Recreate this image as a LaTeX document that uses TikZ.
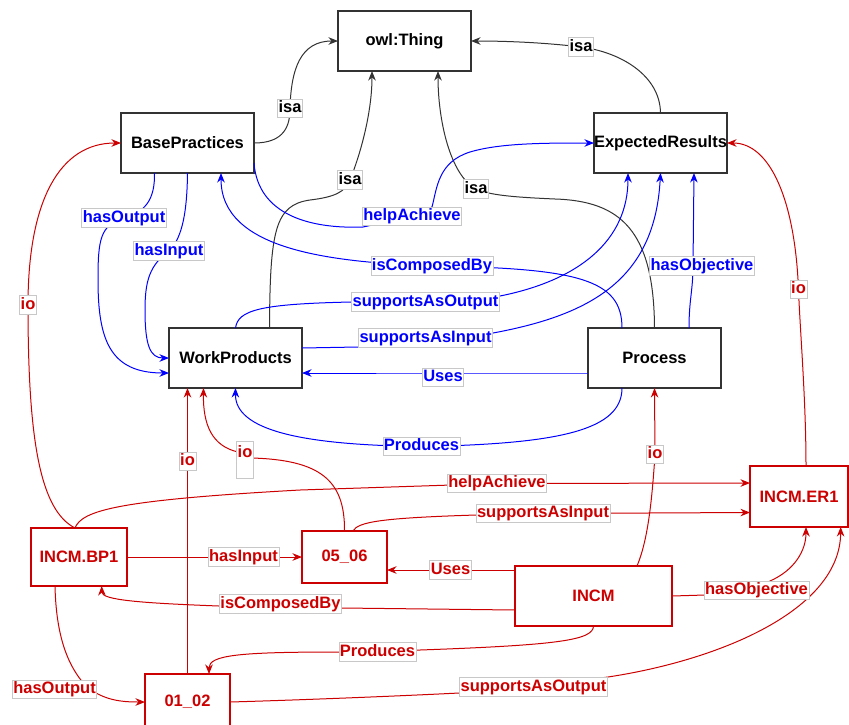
\documentclass[tikz,border=0pt]{standalone}
\usepackage{fontspec}
\setmainfont{Liberation Sans}
\usetikzlibrary{calc,arrows.meta}
\definecolor{cBlue}{RGB}{0,0,255}
\definecolor{cRed}{RGB}{204,0,0}
\definecolor{cBlk}{RGB}{51,51,51}
\definecolor{cLbl}{RGB}{200,200,200}
\begin{document}
\begin{tikzpicture}[x=1pt,y=-1pt,
  >={Stealth[length=9.5pt,width=7.5pt,inset=3pt]},
  txt/.style={font=\fontsize{16.5}{19}\selectfont\bfseries},
  cls/.style={draw=cBlk, line width=1.2pt, fill=white, minimum width=133pt, minimum height=60pt, inner sep=0pt, outer sep=0pt, txt, text=black},
  ind/.style={draw=cRed, line width=1.2pt, fill=white, inner sep=0pt, outer sep=0pt, txt, text=cRed},
  lbl/.style={fill=white, draw=cLbl, line width=0.6pt, inner xsep=1pt, inner ysep=1.5pt, text height=12pt, text depth=3.5pt, txt},
  bl/.style={lbl, text=cBlue},
  rl/.style={lbl, text=cRed},
  kl/.style={lbl, text=black},
  be/.style={draw=cBlue, line width=1pt, ->},
  re/.style={draw=cRed, line width=1pt, ->},
  ke/.style={draw=cBlk, line width=1pt, ->}]
\useasboundingbox (0,0) rectangle (849,724);
\clip (0,0) rectangle (849,724);
\fill[white] (0,0) rectangle (849,724);

% class nodes
\node[cls] (owl) at (404.5,41) {owl:Thing};
\node[cls] (bp) at (187.5,143) {BasePractices};
\node[cls] (er) at (660.5,143) {ExpectedResults};
\node[cls] (wp) at (235.5,358) {WorkProducts};
\node[cls] (proc) at (654.5,358) {Process};
% individuals
\node[ind, minimum width=98pt, minimum height=61pt] (ern1) at (799,496.5) {INCM.ER1};
\node[ind, minimum width=96pt, minimum height=58pt] (bp1) at (79,557) {INCM.BP1};
\node[ind, minimum width=85pt, minimum height=52pt] (n0506) at (344.5,557) {05\_06};
\node[ind, minimum width=157pt, minimum height=60pt] (incm) at (593.5,596) {INCM};
\node[ind, minimum width=85pt, minimum height=56pt] (n0102) at (187.5,702) {01\_02};

% isa
\draw[ke] (bp.east) .. controls (285,143) and (290,125) .. (290,108.5) node[kl]{isa} .. controls (291,70) and (300,41) .. (owl.west);
\draw[ke] ($(wp.north)+(34,0)$) .. controls (270,230) and (275,205) .. (310,200) .. controls (335,197) and (345,192) .. (350,180) node[kl]{isa} .. controls (362,150) and (372,110) .. ($(owl.south)+(-32.5,0)$);
\draw[ke] (proc.north) .. controls (654,230) and (620,201) .. (555,199) .. controls (510,197) and (490,195) .. (476,189) node[kl]{isa} .. controls (450,175) and (438,120) .. ($(owl.south)+(33.5,0)$);
\draw[ke] (er.north) .. controls (660,75) and (620,52) .. (581,47) node[kl]{isa} .. controls (540,42) and (500,41) .. (owl.east);

% blue
\draw[be] ($(bp.south)+(-33,0)$) .. controls (155,200) and (145,212) .. (124,218) node[bl]{hasOutput} .. controls (100,225) and (98,240) .. (98,280) .. controls (98,340) and (110,373) .. ($(wp.west)+(0,15)$);
\draw[be] (bp.south) .. controls (187,220) and (180,240) .. (169,251) node[bl]{hasInput} .. controls (150,265) and (145,280) .. (145,310) .. controls (145,345) and (150,358) .. (wp.west);
\draw[be] ($(proc.north)+(-32.5,0)$) .. controls (622,280) and (580,268) .. (432,266) node[bl]{isComposedBy} .. controls (330,262) and (221,250) .. ($(bp.south)+(33.5,0)$);
\draw[be] ($(bp.east)+(0,20)$) .. controls (258,215) and (310,229) .. (363,227) -- (412,216.5) node[bl]{helpAchieve} -- (432,207) .. controls (437,188) and (438,162) .. (470,152) .. controls (500,143) and (545,143) .. (er.west);
\draw[be] (wp.north) .. controls (238,310) and (260,304) .. (351,302) -- (425.5,302) node[bl]{supportsAsOutput} -- (500,296) .. controls (580,280) and (628,240) .. ($(er.south)+(-32.5,0)$);
\draw[be] ($(wp.east)+(0,-10)$) -- (358,347) -- (425.5,338) node[bl]{supportsAsInput} -- (493,333) .. controls (590,315) and (655,280) .. (er.south);
\draw[be] ($(proc.north)+(34.5,0)$) .. controls (689,300) and (693,290) .. (693,266) node[bl,xshift=9pt]{hasObjective} -- ($(er.south)+(33.5,0)$);
\draw[be] ($(proc.west)+(0,15)$) -- (443,373) node[bl,yshift=-4.5pt]{Uses} -- ($(wp.east)+(0,15)$);
\draw[be] ($(proc.south)+(-32.5,0)$) .. controls (622,430) and (560,444) .. (421.5,446.5) node[bl]{Produces} .. controls (300,445) and (235,430) .. (wp.south);

% red
\draw[re] ($(bp1.north)+(-4,0)$) .. controls (40,510) and (28,440) .. (28,305) node[rl]{io} .. controls (28,200) and (60,143) .. (bp.west);
\draw[re] (n0102.north) -- (187.5,461.5) node[rl]{io} -- (wp.south -| n0102.north);
\draw[re] (n0506.north) .. controls (345,480) and (320,460) .. (252,458) -- (245,455) node[rl, yshift=-5pt, text height=14pt, text depth=20pt]{io} -- (238,452) .. controls (212,446) and (203,425) .. ($(wp.south)+(-32,0)$);
\draw[re] ($(incm.north)+(43.5,0)$) .. controls (648,540) and (652,500) .. (655,454.5) node[rl]{io} -- (proc.south);
\draw[re] ($(ern1.north)+(7,0)$) .. controls (806,400) and (800,330) .. (798.5,289.5) node[rl]{io} .. controls (795,200) and (770,143) .. (er.east);
\draw[re] ($(bp1.north)+(-4,0)$) .. controls (82,510) and (120,500) .. (300,490) -- (497,483.5) node[rl]{helpAchieve} -- ($(ern1.west)+(0,-13.5)$);
\draw[re] ($(n0506.north)+(8.5,0)$) .. controls (358,522) and (380,518) .. (476,515) -- (543,513.5) node[rl]{supportsAsInput} -- ($(ern1.west)+(0,16)$);
\draw[re] (bp1.east) -- (243.5,557) node[rl]{hasInput} -- (n0506.west);
\draw[re] ($(incm.west)+(0,-26)$) -- (450.5,570) node[rl]{Uses} -- ($(n0506.east)+(0,13)$);
\draw[re] ($(incm.west)+(0,14)$) -- (342,608) -- (280.5,604) node[rl]{isComposedBy} -- (219,606) .. controls (140,603) and (102,600) .. ($(bp1.south)+(22.7,0)$);
\draw[re] (incm.south) .. controls (593,640) and (560,645) .. (420,650) -- (377.5,652) node[rl]{Produces} -- (339,652) .. controls (240,652) and (209,655) .. ($(n0102.north)+(21.5,0)$);
\draw[re] ($(bp1.south)+(-24,0)$) .. controls (56,630) and (65,665) .. (88,688) node[rl,xshift=-33.5pt,yshift=-1.5pt]{hasOutput} .. controls (105,700) and (120,702) .. (n0102.west);
\draw[re] (n0102.east) .. controls (300,700) and (400,696) .. (459,693) -- (533.5,687) node[rl]{supportsAsOutput} -- (608,677) .. controls (720,660) and (840,610) .. ($(ern1.south)+(41.7,0)$);
\draw[re] (incm.east) -- (705,595) -- (756.5,590.5) node[rl]{hasObjective} -- (770,581) .. controls (795,570) and (806,550) .. ($(ern1.south)+(7,0)$);
\end{tikzpicture}
\end{document}
